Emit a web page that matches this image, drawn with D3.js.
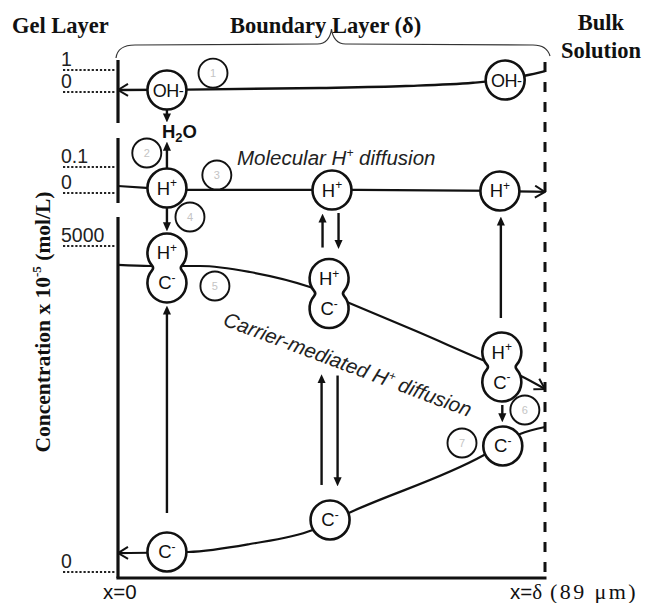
<!DOCTYPE html>
<html><head><meta charset="utf-8">
<script src="https://cdn.jsdelivr.net/npm/d3@7"></script>
<style>body{margin:0;background:#fff}</style>
</head><body><svg id="c" width="646" height="603"></svg>
<script>
// Distance across the boundary layer (μm)
const depth = [0, 89];

// Concentration profiles across the layer: [x (μm), concentration ×10^-5 mol/L]
const ohProfile = [[0,0.09],[14.4,0.11],[42,0.18],[60,0.27],[74,0.42],[80,0.55],[85,0.75],[89,0.95]];
const hProfile  = [[0,0.027],[6.7,0.019],[14.4,0.012],[44.4,0.012],[79.8,0.008],[89,0.004]];
const hcProfile = [[0,4709],[6.7,4693],[17.1,4693],[27.5,4601],[40,4371],[47.7,4141],[62.1,3696],[76.5,3236],[84,3006],[89,2807]];
const cProfile  = [[0,291],[14.6,307],[27.5,429],[40.6,644],[48.1,905],[76.3,1794],[83.8,2117],[89,2224]];

// Tick values on each concentration axis
const ohTicks = [0, 1];
const hTicks = [0, 0.1];
const carrierTicks = [0, 5000];

// Species along the profiles: kind, x (μm), panel, concentration
const species = [
  {id:"OH0", kind:"OH", x:10.2, panel:"oh",  v:0.09},
  {id:"OH1", kind:"OH", x:80.7, panel:"oh",  v:0.545},
  {id:"H0",  kind:"H",  x:10.2, panel:"h",   v:0.019},
  {id:"H1",  kind:"H",  x:44.6, panel:"h",   v:0.0115},
  {id:"H2",  kind:"H",  x:79.6, panel:"h",   v:0.0077},
  {id:"HC0", kind:"HC", x:10.2, panel:"car", v:4663},
  {id:"HC1", kind:"HC", x:44.0, panel:"car", v:4271},
  {id:"HC2", kind:"HC", x:80.0, panel:"car", v:3144},
  {id:"C0",  kind:"C",  x:10.2, panel:"car", v:307},
  {id:"C1",  kind:"C",  x:44.2, panel:"car", v:798},
  {id:"C2",  kind:"C",  x:80.2, panel:"car", v:1933}
];

// Numbered reaction / transport steps
const steps = [
  {n:1, x:19.8, panel:"oh",  v:0.86},
  {n:2, x:6.0,  panel:"h",   v:0.154},
  {n:3, x:20.6, panel:"h",   v:0.069},
  {n:4, x:15.0, panel:"car", v:5445},
  {n:5, x:20.2, panel:"car", v:4387},
  {n:6, x:84.8, panel:"car", v:2485},
  {n:7, x:71.7, panel:"car", v:1979}
];

// Exchanges between species: from, to
const transfers = [
  ["OH0","H2O"], ["H0","H2O"], ["H0","HC0"], ["C0","HC0"],
  ["H1","HC1"], ["HC1","H1"], ["HC1","C1"], ["C1","HC1"],
  ["HC2","H2"], ["HC2","C2"]
];

// ---------- layout ----------
const svg = d3.select("#c");
const SANS = "'Liberation Sans', Arial, sans-serif";
const SERIF = "'Liberation Serif', 'Times New Roman', serif";

const x = d3.scaleLinear().domain(depth).range([118, 545]);
const y = {
  oh:  d3.scaleLinear().domain([0, 1]).range([92, 70]),
  h:   d3.scaleLinear().domain([0, 0.1]).range([193, 167]),
  car: d3.scaleLinear().domain([0, 5000]).range([572, 246])
};
const axisSpan = { oh: [60, 123], h: [138, 203], car: [217, 578] };
const R = 19.5, HALF = 15, rSmall = 14.5;

// markers
const defs = svg.append("defs");
defs.append("marker").attr("id","chev").attr("viewBox","0 0 12 14")
  .attr("refX",11).attr("refY",7).attr("markerWidth",12).attr("markerHeight",14)
  .attr("markerUnits","userSpaceOnUse").attr("orient","auto-start-reverse")
  .append("path").attr("d","M1,1 L11,7 L1,13").attr("fill","none")
  .attr("stroke","#111").attr("stroke-width",2);
defs.append("marker").attr("id","tri").attr("viewBox","0 0 10 10")
  .attr("refX",4).attr("refY",5).attr("markerWidth",9).attr("markerHeight",9)
  .attr("markerUnits","userSpaceOnUse").attr("orient","auto")
  .append("path").attr("d","M0,0.5 L10,5 L0,9.5 Z").attr("fill","#111");

// headings
function heading(tx, ty, str, anchor) {
  svg.append("text").attr("x",tx).attr("y",ty).attr("text-anchor",anchor || "start")
    .attr("font-family",SERIF).attr("font-weight","bold").attr("font-size",22.5)
    .attr("fill","#111").text(str);
}
heading(12, 33, "Gel Layer");
heading(230, 33, "Boundary Layer (δ)");
heading(601, 30, "Bulk", "middle");
heading(601, 58, "Solution", "middle");

// brace over the boundary layer
const bx0 = x(depth[0]), bx1 = x(depth[1]), bm = (bx0 + bx1) / 2;
svg.append("path")
  .attr("d",`M${bx0-2},58 C${bx0-1},50 ${bx0+4},45 ${bx0+17},45 L${bm-14},44 C${bm-6},44 ${bm-1},38 ${bm},29
             C${bm+1},38 ${bm+6},44 ${bm+14},44 L${bx1-12},45 C${bx1-2},45 ${bx1+3},49 ${bx1+5},56`)
  .attr("fill","none").attr("stroke","#333").attr("stroke-width",1.2);

// y-axis title
const yt = svg.append("text").attr("transform","translate(50,322) rotate(-90)")
  .attr("text-anchor","middle").attr("font-family",SERIF).attr("font-weight","bold")
  .attr("font-size",21.5).attr("fill","#111");
yt.append("tspan").text("Concentration x 10");
yt.append("tspan").attr("font-size",13).attr("dy",-9).text("-5");
yt.append("tspan").attr("dy",9).text(" (mol/L)");

// panel axes with dotted reference ticks
const tickSets = { oh: ohTicks, h: hTicks, car: carrierTicks };
Object.keys(tickSets).forEach(k => {
  svg.append("line").attr("x1",x(0)).attr("x2",x(0))
    .attr("y1",axisSpan[k][0]).attr("y2",axisSpan[k][1])
    .attr("stroke","#111").attr("stroke-width",3.2);
  tickSets[k].forEach(t => {
    svg.append("line").attr("x1",63).attr("x2",x(0)-2).attr("y1",y[k](t)).attr("y2",y[k](t))
      .attr("stroke","#222").attr("stroke-width",2.2).attr("stroke-dasharray","2.2,1.9");
    svg.append("text").attr("x",61).attr("y",y[k](t)-4).attr("font-family",SANS)
      .attr("font-size",19.5).attr("fill","#222").text(String(t));
  });
});

// bottom axis and bulk boundary
svg.append("line").attr("x1",x(0)-1.6).attr("x2",x(89)+1.5).attr("y1",578).attr("y2",578)
  .attr("stroke","#111").attr("stroke-width",3.2);
svg.append("line").attr("x1",x(89)).attr("x2",x(89)).attr("y1",62).attr("y2",578)
  .attr("stroke","#111").attr("stroke-width",3).attr("stroke-dasharray","10,10");

svg.append("text").attr("x",103).attr("y",599).attr("font-family",SANS).attr("font-size",20.5)
  .attr("fill","#111").text("x=0");
const xd = svg.append("text").attr("x",510).attr("y",599).attr("font-family",SANS)
  .attr("font-size",20.5).attr("fill","#111");
xd.append("tspan").text("x=");
xd.append("tspan").attr("font-family",SERIF).attr("font-size",21).text("δ");
xd.append("tspan").attr("font-family",SERIF).attr("font-size",22).attr("letter-spacing",2.4)
  .text(" (89 μm)");

// concentration profiles
const line = d3.line().x(d => x(d[0])).curve(d3.curveMonotoneX);
function profile(data, panel, startArrow, endArrow, w) {
  svg.append("path").datum(data)
    .attr("d", line.y(d => y[panel](d[1])))
    .attr("fill","none").attr("stroke","#111").attr("stroke-width",w)
    .attr("marker-start", startArrow ? "url(#chev)" : null)
    .attr("marker-end", endArrow ? "url(#chev)" : null);
}
profile(ohProfile, "oh", true, false, 2.4);
profile(hProfile, "h", false, true, 2.2);
profile(hcProfile, "car", false, true, 2.2);
profile(cProfile, "car", true, false, 2.2);

// process labels
svg.append("text").attr("x",237).attr("y",165).attr("font-family",SANS).attr("font-style","italic")
  .attr("font-size",20.5).attr("fill","#222")
  .call(t => { t.append("tspan").text("Molecular H");
               t.append("tspan").attr("font-size",12).attr("dy",-8).text("+");
               t.append("tspan").attr("dy",8).text(" diffusion"); });
svg.append("text").attr("transform","translate(222,325) rotate(20.5)").attr("font-family",SANS)
  .attr("font-style","italic").attr("font-size",20.5).attr("fill","#222")
  .call(t => { t.append("tspan").text("Carrier-mediated H");
               t.append("tspan").attr("font-size",12).attr("dy",-8).text("+");
               t.append("tspan").attr("dy",8).text(" diffusion"); });

// species geometry
const nodes = {};
species.forEach(s => {
  const cx = x(s.x), cy = y[s.panel](s.v);
  const ext = s.kind === "HC" ? HALF + R : R;
  nodes[s.id] = { ...s, cx, cy, top: cy - ext, bottom: cy + ext };
});
{
  const a = nodes.OH0, b = nodes.H0;
  const cy = (a.bottom + b.top) / 2 - 7.5;
  nodes.H2O = { id:"H2O", cx: a.cx, cy, top: cy - 8.5, bottom: cy + 8.5 };
}

// exchange arrows
const gapFor = { "OH0>H2O":[0.5,0], "H0>H2O":[0.5,1], "H0>HC0":[0.5,1.5], "C0>HC0":[19.5,2.5],
  "H1>HC1":[3.5,9.5], "HC1>H1":[11.5,3.5], "HC1>C1":[47.5,13.5], "C1>HC1":[15.5,45.5],
  "HC2>H2":[14.5,5.5], "HC2>C2":[3.5,3.5] };
transfers.forEach(([f, t]) => {
  const a = nodes[f], b = nodes[t];
  const g = gapFor[f + ">" + t];
  const down = b.cy > a.cy;
  // paired arrows between the same species sit side by side
  const paired = transfers.some(([p, q]) => p === t && q === f);
  const dx = paired ? (down ? 8 : -8) : 0;
  const xx = (a.cx + b.cx) / 2 + dx;
  const y0 = down ? a.bottom + g[0] : a.top - g[0];
  const tip = down ? b.top - g[1] : b.bottom + g[1];
  const y1 = down ? tip - 6 : tip + 6;
  svg.append("line").attr("x1",xx).attr("x2",xx).attr("y1",y0).attr("y2",y1)
    .attr("stroke","#111").attr("stroke-width",2.4).attr("marker-end","url(#tri)");
});

// H2O label
svg.append("text").attr("x",nodes.H2O.cx - 5).attr("y",nodes.H2O.cy + 6.5)
  .attr("font-family",SANS).attr("font-weight","bold").attr("font-size",18.5).attr("fill","#111")
  .call(t => { t.append("tspan").text("H");
               t.append("tspan").attr("font-size",13).attr("dy",4).text("2");
               t.append("tspan").attr("dy",-4).text("O"); });

// species symbols
function label(g, cx, cy, base, sup) {
  const t = g.append("text").attr("x",cx).attr("y",cy + 6.5).attr("text-anchor","middle")
    .attr("font-family",SANS).attr("font-size",18.5).attr("fill","#111");
  t.append("tspan").text(base);
  if (sup) t.append("tspan").attr("font-size",12).attr("dy",-7.5).text(sup);
}
const rf = 3.7, tx = 14.88, ty = 2.39;
const peanut = `M${tx},${-ty} A${R},${R} 0 1 0 ${-tx},${-ty} A${rf},${rf} 0 0 1 ${-tx},${ty}
  A${R},${R} 0 1 0 ${tx},${ty} A${rf},${rf} 0 0 1 ${tx},${-ty} Z`;
species.forEach(s => {
  const n = nodes[s.id];
  const g = svg.append("g");
  if (s.kind === "HC") {
    g.append("path").attr("transform",`translate(${n.cx},${n.cy})`).attr("d",peanut)
      .attr("fill","#fff").attr("stroke","#111").attr("stroke-width",2.6);
    label(g, n.cx, n.cy - HALF, "H", "+");
    label(g, n.cx, n.cy + HALF, "C", "-");
  } else {
    g.append("circle").attr("cx",n.cx).attr("cy",n.cy).attr("r",R)
      .attr("fill","#fff").attr("stroke","#111").attr("stroke-width",2.6);
    if (s.kind === "OH") {
      const t = g.append("text").attr("x",n.cx + 1).attr("y",n.cy + 6.5).attr("text-anchor","middle")
        .attr("font-family",SANS).attr("font-size",18).attr("letter-spacing",-0.6).attr("fill","#111");
      t.append("tspan").text("OH");
      t.append("tspan").attr("font-size",15).attr("dy",-1).text("-");
    } else if (s.kind === "H") label(g, n.cx, n.cy, "H", "+");
    else label(g, n.cx, n.cy, "C", "-");
  }
});

// step markers
steps.forEach(s => {
  const cx = x(s.x), cy = y[s.panel](s.v);
  svg.append("circle").attr("cx",cx).attr("cy",cy).attr("r",rSmall)
    .attr("fill","#fff").attr("stroke","#111").attr("stroke-width",1.9);
  svg.append("text").attr("x",cx).attr("y",cy + 4).attr("text-anchor","middle")
    .attr("font-family",SANS).attr("font-size",11).attr("fill","#c4c4c4").text(s.n);
});
</script></body></html>
